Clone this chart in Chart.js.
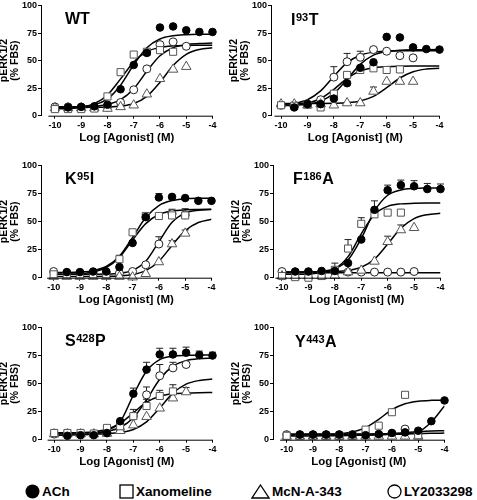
<!DOCTYPE html>
<html>
<head>
<meta charset="utf-8">
<script src="https://cdn.jsdelivr.net/npm/chart.js@4.4.1/dist/chart.umd.min.js"></script>
<style>
  body { margin: 0; width: 477px; height: 500px; overflow: hidden; position: relative; background: #fff;
         font-family: "Liberation Sans", Arial, sans-serif; }
  canvas { position: absolute; }
  .tag { position: absolute; font-weight: bold; font-size: 16px; line-height: 16px; white-space: nowrap; }
  .tag span { font-size: 11px; position: relative; top: -4.5px; margin: 0 0.5px; }
  .leg { position: absolute; top: 483px; height: 18px; font-weight: bold; font-size: 13.5px; line-height: 18px; white-space: nowrap; }
  .leg svg { vertical-align: middle; margin-right: 2px; position: relative; top: -1px; }
</style>
</head>
<body>
<canvas id="wt" width="220" height="145"></canvas>
<canvas id="i93" width="217" height="145"></canvas>
<canvas id="k95" width="219" height="147"></canvas>
<canvas id="f186" width="216" height="147"></canvas>
<canvas id="s428" width="220" height="147"></canvas>
<canvas id="y443" width="220" height="147"></canvas>

<div class="tag" style="left:65px;top:11px">WT</div>
<div class="tag" style="left:291px;top:12px">I<span>93</span>T</div>
<div class="tag" style="left:65px;top:171px">K<span>95</span>I</div>
<div class="tag" style="left:293px;top:171px">F<span>186</span>A</div>
<div class="tag" style="left:65px;top:333px">S<span>428</span>P</div>
<div class="tag" style="left:295px;top:334px">Y<span>443</span>A</div>

<div class="leg" style="left:25px"><svg width="15" height="15"><circle cx="7.5" cy="7.5" r="7" fill="#000"/></svg>ACh</div>
<div class="leg" style="left:119px"><svg width="15" height="15"><rect x="1" y="1" width="13" height="13" fill="#fff" stroke="#000" stroke-width="1.3"/></svg>Xanomeline</div>
<div class="leg" style="left:251px"><svg width="19" height="15"><polygon points="9.5,1 18,14 1,14" fill="#fff" stroke="#000" stroke-width="1.3"/></svg>McN-A-343</div>
<div class="leg" style="left:387px"><svg width="15" height="15"><circle cx="7.5" cy="7.5" r="6.5" fill="#fff" stroke="#000" stroke-width="1.3"/></svg>LY2033298</div>

<script>
// Log [Agonist] (M) for every measured point and for the read-off fit curves
const doses = [-10, -9.5, -9, -8.5, -8, -7.5, -7, -6.5, -6, -5.5, -5, -4.5, -4];
const xTicks = [-10, -9, -8, -7, -6, -5, -4];
const yTicks = [0, 25, 50, 75, 100];

// WT
const wtACh = [null, 7.5, 8, 8.5, 10, 24, 46, 57, 80, 81, 77.5, 76, 76];
const wtXan = [6, 6, 6, 6.5, 17.5, 39.5, 55.5, 58, 59.5, 58, null, null, null];
const wtMcN = [7, 7, 7, 7, 6.5, 8, 9.5, 19.5, 33.5, 42, 44.5, null, null];
const wtLY = [8, 8, 7.5, 7.5, 8, 12, 23.5, 42.5, 64.5, 67, 63, null, null];
const wtAChFit = [7.1, 7.3, 7.9, 9.9, 15.3, 27.7, 46.2, 61.7, 69.6, 72.5, 73.5, 73.9, 74];
const wtXanFit = [6.2, 6.5, 7.6, 10.8, 18.8, 33.4, 48.8, 58.2, 62, 63.4, 63.8, 63.9, 64];
const wtMcNFit = [7.5, 7.5, 7.5, 7.6, 7.9, 8.7, 11.1, 17.6, 30.3, 45.5, 55.7, 60.1, 61.7];
const wtLYFit = [8, 8.1, 8.2, 8.7, 10.2, 14.5, 24.5, 40.3, 54.4, 61.7, 64.6, 65.5, 65.9];

// I93T
const i93ACh = [null, 7.5, 10.5, 10.5, 15.5, 29.5, 43.5, 48.5, 71.5, 71, 62, 60.5, 60];
const i93Xan = [9.5, 9, 10, 7.5, 20, 37, 41.5, 43, 41.5, 42, null, null, null];
const i93McN = [10.5, 10.5, 9.5, 10.5, 9.5, 11.5, 11.5, 22, 31, 31, 31, null, null];
const i93McNErr = [0, 0, 0, 0, 0, 0, 0, 4, 0, 0, 0, 0, 0];
const i93LY = [9.5, 9.5, 10.5, 14.5, 35, 49, 53, 60, 58.5, 54.5, 52.5, null, null];
const i93LYErr = [0, 0, 0, 0, 9.5, 7.5, 5.5, 0, 0, 0, 0, 0, 0];
const i93AChFit = [9.1, 9.5, 10.4, 13.2, 20.2, 33.1, 46.6, 54.9, 58.3, 59.4, 59.8, 59.9, 60];
const i93XanFit = [9.3, 9.8, 11.4, 15.6, 23.9, 33.9, 40.5, 43.5, 44.5, 44.9, 45, 45, 45];
const i93McNFit = [11, 11, 11, 11.1, 11.3, 11.8, 13.4, 17.5, 25.4, 34.2, 39.9, 42.3, 43.1];
const i93LYFit = [10.1, 11.2, 14.5, 22.5, 35.7, 48.1, 54.9, 57.6, 58.5, 58.9, 59, 59, 59];

// K95I
const k95ACh = [null, 5, 5, 5.5, 5.5, 9.5, 31, 54, 71.5, 72, 71, 68.5, 68.5];
const k95AChErr = [0, 0, 0, 0, 0, 0, 0, 3, 3.5, 0, 0, 0, 0];
const k95Xan = [3, 3, 3, 3, 3, 16.5, 40.5, 55, 55, 55.5, 55.5, null, null];
const k95XanErr = [0, 0, 0, 0, 0, 3.5, 2, 0, 0, 5.5, 6, 0, 0];
const k95McN = [1, 1, 1, 1, 1, 1, 0.5, 3.5, 14, 30, 39.5, null, null];
const k95McNErr = [0, 0, 0, 0, 0, 0, 0, 0, 0, 3, 3, 0, 0];
const k95LY = [5.5, 4, 4, 4, 4, 4, 5.5, 11.5, 30, 57, 56, null, null];
const k95LYErr = [0, 0, 0, 0, 0, 0, 0, 0, 6.5, 3, 0, 0, 0];
const k95AChFit = [4.6, 4.7, 5.1, 6.3, 10, 19.1, 35.9, 53.6, 64.3, 68.7, 70.3, 70.8, 70.9];
const k95XanFit = [3.1, 3.2, 3.6, 5, 8.9, 18.2, 33.7, 48.2, 56.3, 59.4, 60.5, 60.8, 61];
const k95McNFit = [1, 1, 1, 1.1, 1.2, 1.6, 2.8, 6.3, 14.7, 28.8, 42, 49.2, 52.1];
const k95LYFit = [3, 3, 3, 3.1, 3.2, 3.9, 6.5, 14.6, 32, 49.4, 57.6, 60.1, 60.8];

// F186A
const f186ACh = [null, 5.5, 5.5, 6, 6, 13, 34, 60.5, 78, 82.5, 81.5, 79, 79];
const f186AChErr = [0, 0, 0, 0, 0, 0, 0, 8, 4.5, 4.5, 5, 5, 4.5];
const f186Xan = [1.5, 0.5, 0, 1.5, 7, 26, 48, 56.5, 58, 58, null, null, null];
const f186XanErr = [0, 0, 0, 0, 6, 8, 5.5, 0, 0, 0, 0, 0, 0];
const f186McN = [1.5, 1.5, 1.5, 1.5, 2, 5, 6.5, 14.5, 32, 42.5, 44.5, null, null];
const f186McNErr = [0, 0, 0, 0, 0, 0, 0, 0, 5, 4.5, 0, 0, 0];
const f186LY = [5.5, 5, 5, 5, 5, 5, 5, 5, 5, 5, 5.5, null, null];
const f186AChFit = [5, 5.1, 5.2, 5.8, 8, 15.7, 34.9, 59.3, 73.5, 78.2, 79.6, 79.9, 80];
const f186XanFit = [3, 3.1, 3.3, 4.3, 7.9, 18.8, 39.1, 56.4, 63.6, 65.8, 66.3, 66.5, 66.5];
const f186McNFit = [5, 5, 5.1, 5.2, 5.5, 6.5, 9.3, 16.6, 30, 44.1, 52.7, 56.2, 57.4];
const f186LYFit = [4.5, 4.5, 4.5, 4.5, 4.5, 4.5, 4.5, 4.5, 4.5, 4.5, 4.5, 4.5, 4.5];

// S428P
const s428ACh = [null, 3.5, 4, 4, 6, 16.5, 41, 62.5, 76, 76, 77.5, 75.5, 75];
const s428AChErr = [0, 0, 0, 0, 0, 0, 5, 6.5, 5.5, 5.5, 5, 3.5, 3];
const s428Xan = [6, 6, 6, 5.5, 10.5, 12, 21, 30, 39, 43, null, null, null];
const s428XanErr = [0, 0, 0, 0, 0, 0, 6, 6, 5, 6, 0, 0, 0];
const s428McN = [5, 5, 5, 5, 5.5, 8, 13, 20.5, 28, 37, 42.5, null, null];
const s428McNErr = [0, 0, 0, 0, 0, 0, 0, 0, 0, 0, 4, 0, 0];
const s428LY = [5, 5.5, 5, 5, 6, 9, 21, 40, 57, 64, 67, null, null];
const s428LYErr = [0, 0, 0, 0, 0, 0, 0, 7, 10, 5, 0, 0, 0];
const s428AChFit = [4, 4.1, 4.3, 5.1, 8.2, 16, 39.8, 61.2, 71.3, 74.4, 75.2, 75.4, 75.5];
const s428XanFit = [6, 6.1, 6.4, 7.1, 9.3, 14.7, 24, 33.4, 38.7, 40.9, 41.6, 41.9, 42];
const s428McNFit = [5, 5, 5, 5.1, 5.4, 6.4, 9.1, 15.9, 28.3, 41.5, 49.5, 52.8, 54];
const s428LYFit = [6, 6.1, 6.2, 6.5, 7.6, 10.9, 19.5, 35.6, 53.9, 65.5, 70.4, 72.2, 72.7];

// Y443A
const y443ACh = [null, 4.5, 4.5, 4.5, 4.5, 4.5, 4, 5, 6, 6.5, 8, 16.5, 35];
const y443Xan = [3.5, 3.5, 3.5, 3.5, 3.5, 3.5, 9, 12.5, 24.5, 40, 4, null, null];
const y443McN = [3, 3, 3, 3, 3, 3, 3, 3, 3, 3, 3, null, null];
const y443LY = [4.5, 4.5, 4.5, 4.5, 4.5, 4.5, 4.5, 4.5, 5.5, 9.5, 5.5, null, null];
const y443AChFit = [5, 5, 5, 5, 5, 5, 5, 5, 5, 5.3, 7, 15.8, 30.1];
const y443XanFit = [4.5, 4.5, 4.6, 4.7, 5.3, 6.8, 10.7, 18.2, 26.7, 32, 34.3, 35.1, 35.3];
const y443McNFit = [3.2, 3.3, 3.4, 3.5, 3.6, 3.8, 4, 4.3, 4.7, 5.1, 5.4, 5.7, 5.9];
const y443LYFit = [4.5, 4.5, 4.5, 4.5, 4.5, 4.6, 4.7, 5, 5.5, 6.3, 7.1, 7.7, 8];

Chart.defaults.font.family = '"Liberation Sans", Arial, sans-serif';
Chart.defaults.color = '#000';

// marker look for ACh, Xanomeline, McN-A-343, LY2033298
const markers = [
  { pointStyle: 'circle', pointRadius: 3.8, backgroundColor: '#000', borderColor: '#000' },
  { pointStyle: 'rect', pointRadius: 5, backgroundColor: '#fff', borderColor: '#555' },
  { pointStyle: 'triangle', pointRadius: 5.5, backgroundColor: '#fff', borderColor: '#555' },
  { pointStyle: 'circle', pointRadius: 4, backgroundColor: '#fff', borderColor: '#222' }
];

const panels = [
  { id: 'wt', left: -1, top: -1, xMin: -10.53, pts: [wtACh, wtXan, wtMcN, wtLY], errs: [],
    fits: [wtAChFit, wtXanFit, wtMcNFit, wtLYFit] },
  { id: 'i93', left: 229, top: -1, xMin: -10.38, pts: [i93ACh, i93Xan, i93McN, i93LY], errs: [null, null, i93McNErr, i93LYErr],
    fits: [i93AChFit, i93XanFit, i93McNFit, i93LYFit] },
  { id: 'k95', left: -1, top: 159, xMin: -10.48, pts: [k95ACh, k95Xan, k95McN, k95LY], errs: [k95AChErr, k95XanErr, k95McNErr, k95LYErr],
    fits: [k95AChFit, k95XanFit, k95McNFit, k95LYFit] },
  { id: 'f186', left: 231, top: 159, xMin: -10.34, pts: [f186ACh, f186Xan, f186McN, f186LY], errs: [f186AChErr, f186XanErr, f186McNErr, null],
    fits: [f186AChFit, f186XanFit, f186McNFit, f186LYFit] },
  { id: 's428', left: -1, top: 321, xMin: -10.5, pts: [s428ACh, s428Xan, s428McN, s428LY], errs: [s428AChErr, s428XanErr, s428McNErr, s428LYErr],
    fits: [s428AChFit, s428XanFit, s428McNFit, s428LYFit] },
  { id: 'y443', left: 231, top: 321, xMin: -10.52, pts: [y443ACh, y443Xan, y443McN, y443LY], errs: [],
    fits: [y443AChFit, y443XanFit, y443McNFit, y443LYFit] }
];

// upward SEM bars with a cap, drawn under the markers
const errorBars = {
  id: 'errorBars',
  beforeDatasetsDraw(chart) {
    const ctx = chart.ctx, xs = chart.scales.x, ys = chart.scales.y;
    ctx.save();
    ctx.strokeStyle = '#222';
    ctx.lineWidth = 1;
    chart.data.datasets.forEach(ds => {
      if (!ds.errors) return;
      ds.data.forEach((p, i) => {
        const e = ds.errors[i];
        if (!e) return;
        const px = xs.getPixelForValue(p.x);
        const y0 = ys.getPixelForValue(p.y);
        const y1 = ys.getPixelForValue(p.y + e);
        ctx.beginPath();
        ctx.moveTo(px, y0); ctx.lineTo(px, y1);
        ctx.moveTo(px - 3.5, y1); ctx.lineTo(px + 3.5, y1);
        ctx.stroke();
      });
    });
    ctx.restore();
  }
};

// Prism style x axis line, starting a little right of the y axis
const xAxisLine = {
  id: 'xAxisLine',
  afterDraw(chart) {
    const ctx = chart.ctx, xs = chart.scales.x, y = chart.chartArea.bottom;
    ctx.save();
    ctx.strokeStyle = '#000';
    ctx.lineWidth = 1;
    ctx.beginPath();
    ctx.moveTo(xs.getPixelForValue(-10.25), y + 0.5);
    ctx.lineTo(xs.getPixelForValue(-4) + 0.5, y + 0.5);
    ctx.stroke();
    ctx.restore();
  }
};

const tickFont = { size: 9, weight: 'bold' };
const titleFont = { size: 11.5, weight: 'bold', lineHeight: 1.0 };

panels.forEach(p => {
  const el = document.getElementById(p.id);
  el.style.left = p.left + 'px';
  el.style.top = p.top + 'px';

  const datasets = [];
  p.pts.forEach((vals, k) => {
    const data = [], errs = [];
    vals.forEach((v, i) => {
      if (v === null) return;
      data.push({ x: doses[i], y: v });
      errs.push(p.errs[k] ? p.errs[k][i] : 0);
    });
    datasets.push(Object.assign({ data: data, errors: errs, borderWidth: 1, clip: false, order: 0 }, markers[k]));
  });
  p.fits.forEach(vals => {
    datasets.push({
      data: vals.map((v, i) => ({ x: doses[i], y: v })),
      showLine: true, pointRadius: 0, borderColor: '#000', borderWidth: 1.5,
      cubicInterpolationMode: 'monotone', fill: false, order: 1
    });
  });

  new Chart(el, {
    type: 'scatter',
    data: { datasets: datasets },
    plugins: [errorBars, xAxisLine],
    options: {
      responsive: false,
      animation: false,
      devicePixelRatio: 1,
      events: [],
      layout: { padding: { top: 5, right: 2, left: 0, bottom: 0 } },
      plugins: { legend: { display: false }, tooltip: { enabled: false } },
      scales: {
        x: {
          type: 'linear', min: p.xMin, max: -4,
          afterBuildTicks: s => { s.ticks = xTicks.map(v => ({ value: v })); },
          ticks: { font: tickFont, color: '#000', padding: 1, maxRotation: 0, autoSkip: false },
          grid: { drawOnChartArea: false, drawTicks: true, tickLength: 3, tickColor: '#000' },
          border: { display: false },
          title: { display: true, text: 'Log [Agonist] (M)', font: titleFont, color: '#000', padding: { top: 1, bottom: 0 } }
        },
        y: {
          min: 0, max: 100,
          afterBuildTicks: s => { s.ticks = yTicks.map(v => ({ value: v })); },
          ticks: { font: tickFont, color: '#000', padding: 1 },
          grid: { drawOnChartArea: false, drawTicks: true, tickLength: 3, tickColor: '#000' },
          border: { display: true, color: '#000', width: 1 },
          title: { display: true, text: ['pERK1/2', '(% FBS)'], font: { size: 10.5, weight: 'bold', lineHeight: 1.0 },
                   color: '#000', padding: { top: 0, bottom: 1 } }
        }
      }
    }
  });
});
</script>
</body>
</html>
